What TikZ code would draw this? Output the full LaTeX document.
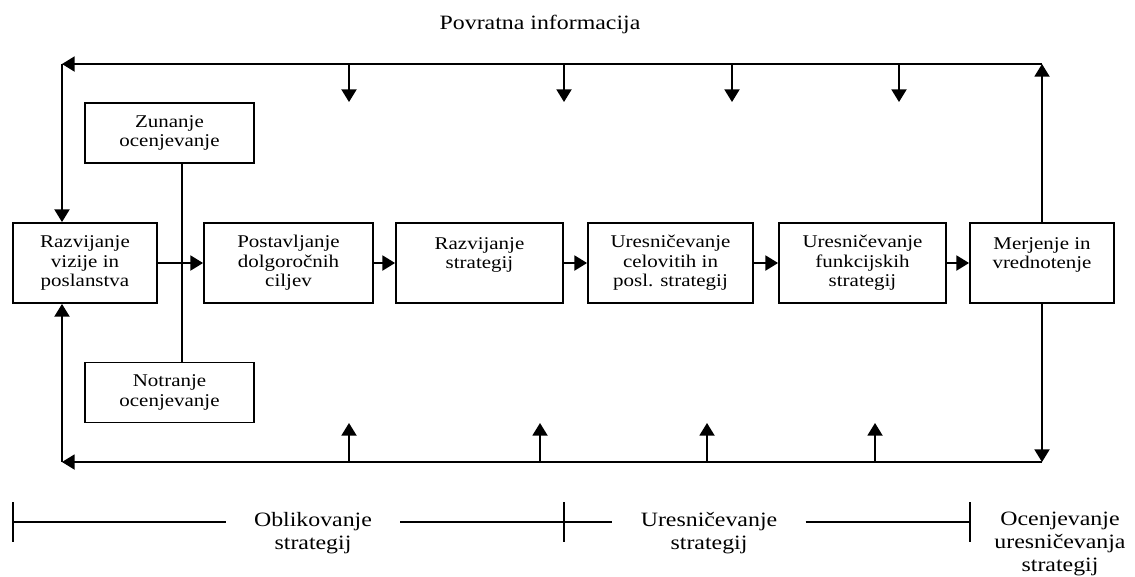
\documentclass[tikz,border=0pt]{standalone}
\usepackage{fontspec}
\setmainfont{Liberation Serif}[FakeStretch=1.17]
\usetikzlibrary{arrows.meta, positioning, calc}

\begin{document}
\begin{tikzpicture}[
  x=0.02cm, y=-0.02cm,
  box/.style={draw, line width=1.1pt, align=center, inner sep=2pt,
              minimum height=1.6cm, font=\fontsize{10.2}{11}\selectfont},
  side/.style={box, minimum width=3.38cm, minimum height=1.2cm},
  arr/.style={-{Triangle[length=7.2pt, width=8.6pt]}, line width=0.9pt},
  line/.style={line width=0.9pt},
  phase/.style={align=center, anchor=north, inner ysep=0pt, inner xsep=0.56cm,
                font=\fontsize{11.6}{13}\selectfont},
]
\useasboundingbox (0,0) rectangle (1135,576);

% --- title ---
\node[font=\fontsize{11.6}{13}\selectfont] (tit) at (540,24) {Povratna informacija};

% --- main row ---
\node[box, minimum width=2.88cm] (vis)   at (85,263)    {Razvijanje\\vizije in\\poslanstva};
\node[box, minimum width=3.38cm] (cilj)  at (288.5,263) {Postavljanje\\dolgoročnih\\ciljev};
\node[box, minimum width=3.34cm] (strat) at (479.5,263) {Razvijanje\\strategij\\\mbox{}};
\node[box, minimum width=3.30cm] (cel)   at (670.5,263) {Uresničevanje\\celovitih in\\posl. strategij};
\node[box, minimum width=3.34cm] (funk)  at (862.5,263) {Uresničevanje\\funkcijskih\\strategij};
\node[box, minimum width=2.88cm] (mer)   at (1042,263)  {Merjenje in\\vrednotenje\\\mbox{}};

\node[side] (zun) at (169.5,133)   {Zunanje\\ocenjevanje};
\node[side] (not) at (169.5,392.5) {Notranje\\ocenjevanje};

\draw[arr] (vis) -- (cilj);
\draw[arr] (cilj) -- (strat);
\draw[arr] (strat) -- (cel);
\draw[arr] (cel) -- (funk);
\draw[arr] (funk) -- (mer);

\coordinate (jn) at (182,263);
\draw[line] (jn |- zun.south) -- (jn |- not.north);

% --- feedback loop, top ---
\coordinate (tl) at (62,64);
\coordinate (tr) at (1042,64);
\draw[arr] (mer.north) -- (tr);
\draw[arr] (tr) -- (tl);
\draw[arr] (tl) -- (tl |- vis.north);
\foreach \x [count=\i] in {349,564,732,899} {
  \coordinate (fa\i) at (\x,102);
  \draw[arr] (fa\i |- tr) -- (fa\i);
}

% --- feedback loop, bottom ---
\coordinate (bl) at (62,462);
\coordinate (br) at (1042,462);
\draw[arr] (mer.south) -- (br);
\draw[arr] (br) -- (bl);
\draw[arr] (bl) -- (bl |- vis.south);
\foreach \x [count=\i] in {349,540,707,875} {
  \coordinate (fb\i) at (\x,423);
  \draw[arr] (fb\i |- bl) -- (fb\i);
}

% --- phases ---
\coordinate (k1) at (13,522);
\coordinate (k2) at (564,522);
\coordinate (k3) at (970,522);
\foreach \k in {k1,k2,k3}
  \draw[line] ($(\k)+(0,-20)$) -- ($(\k)+(0,20)$);

\node[phase] (ob) at (313,512)  {Oblikovanje\\strategij};
\node[phase] (ur) at (709,512)  {Uresničevanje\\strategij};
\node[phase] (oc) at (1060,512) {Ocenjevanje\\uresničevanja\\strategij};

\draw[line] (k1) -- (k1 -| ob.west);
\draw[line] (ob.east |- k1) -- (k2) -- (k2 -| ur.west);
\draw[line] (ur.east |- k2) -- (k3);

\end{tikzpicture}
\end{document}
